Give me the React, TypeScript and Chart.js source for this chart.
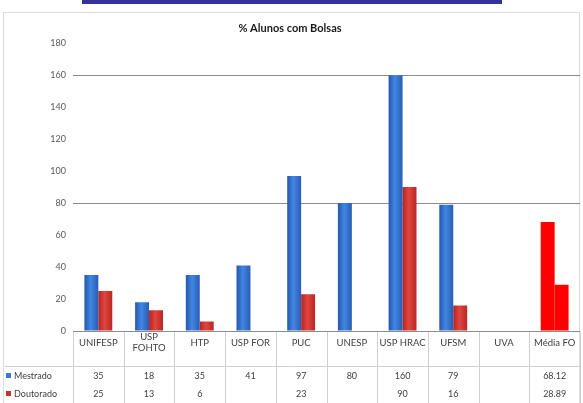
import { useEffect, useRef } from "react";
import { Chart, registerables } from "chart.js";

Chart.register(...registerables);

// ---- data ----
const chartTitle = "% Alunos com Bolsas";
const categories: (string | string[])[] = [
  "UNIFESP",
  ["USP", "FOHTO"],
  "HTP",
  "USP FOR",
  "PUC",
  "UNESP",
  "USP HRAC",
  "UFSM",
  "UVA",
  "Média FO",
];
const seriesNames = ["Mestrado", "Doutorado"];
const mestrado: (number | null)[] = [35, 18, 35, 41, 97, 80, 160, 79, null, 68.12];
const doutorado: (number | null)[] = [25, 13, 6, null, 23, null, 90, 16, null, 28.89];
const yMin = 0;
const yMax = 180;
const yStep = 20;
const ruledValues = [0, 80, 160];

// ---- styling ----
const FONT = "Lato, 'Open Sans', 'DejaVu Sans', sans-serif";
const CAT_PCT = 0.55;
const AVERAGE_INDEX = categories.length - 1;
const AVERAGE_COLOR = "#ff0000";
const BLUE_STOPS = ["#2457ad", "#4186e3", "#2a5cb2"];
const RED_STOPS = ["#b8231f", "#e0463f", "#b92622"];
const KEY_COLORS = ["#3a78d4", "#c8302b"];
const TABLE_LEFT = 5;
const ROW_H = 18;

function barFill(dsIndex: number, stops: string[]) {
  return (ctx: any) => {
    const i = ctx.dataIndex;
    if (i === AVERAGE_INDEX) return AVERAGE_COLOR;
    const chart = ctx.chart;
    const x = chart.scales?.x;
    if (!x || x.right === undefined || !isFinite(x.right - x.left)) return stops[1];
    const catW = (x.right - x.left) / categories.length;
    const bw = (catW * CAT_PCT) / 2;
    const c = x.getPixelForValue(i);
    if (!isFinite(c)) return stops[1];
    const left = c - bw + dsIndex * bw;
    const g = chart.ctx.createLinearGradient(left, 0, left + bw, 0);
    g.addColorStop(0, stops[0]);
    g.addColorStop(0.45, stops[1]);
    g.addColorStop(1, stops[2]);
    return g;
  };
}

const frame = {
  id: "frame",
  beforeDraw(chart: any) {
    const { ctx, width, height } = chart;
    ctx.save();
    ctx.fillStyle = "#ffffff";
    ctx.fillRect(0, 0, width, height);
    // outer chart border
    ctx.strokeStyle = "#dcdcdc";
    ctx.lineWidth = 1;
    ctx.strokeRect(3.5, 12.5, width - 7, height - 10);
    // heading band of the page
    ctx.fillStyle = "#333399";
    ctx.fillRect(82, 0, 420, 4);
    ctx.restore();
  },
};

const dataTable = {
  id: "dataTable",
  afterDraw(chart: any) {
    const { ctx, chartArea } = chart;
    const x = chart.scales.x;
    const n = categories.length;
    const catW = (x.right - x.left) / n;
    const headerBottom = Math.round(x.bottom);
    const tableBottom = headerBottom + ROW_H * 2 + 4;
    ctx.save();
    ctx.strokeStyle = "#cfcfcf";
    ctx.lineWidth = 1;
    ctx.beginPath();
    for (let i = 0; i <= n; i++) {
      const px = Math.round(x.left + i * catW) + 0.5;
      ctx.moveTo(px, chartArea.bottom + 1);
      ctx.lineTo(px, tableBottom);
    }
    ctx.moveTo(TABLE_LEFT, headerBottom + 0.5);
    ctx.lineTo(x.right, headerBottom + 0.5);
    ctx.stroke();

    const rows = [mestrado, doutorado];
    ctx.textBaseline = "middle";
    ctx.font = `9px ${FONT}`;
    rows.forEach((vals, r) => {
      const cy = headerBottom + ROW_H * (r + 0.5) + 1;
      ctx.fillStyle = KEY_COLORS[r];
      ctx.fillRect(TABLE_LEFT + 1, cy - 3, 5, 5);
      ctx.fillStyle = "#404040";
      ctx.textAlign = "left";
      ctx.fillText(seriesNames[r], TABLE_LEFT + 9, cy);
      ctx.textAlign = "center";
      vals.forEach((v, i) => {
        if (v === null) return;
        ctx.fillText(String(v), x.getPixelForValue(i), cy);
      });
    });
    ctx.restore();
  },
};

export default function App() {
  const ref = useRef<HTMLCanvasElement>(null);

  useEffect(() => {
    if (!ref.current) return;
    const chart = new Chart(ref.current, {
      type: "bar",
      data: {
        labels: categories,
        datasets: [
          {
            label: seriesNames[0],
            data: mestrado,
            backgroundColor: barFill(0, BLUE_STOPS),
            borderWidth: 0,
            categoryPercentage: CAT_PCT,
            barPercentage: 1,
          },
          {
            label: seriesNames[1],
            data: doutorado,
            backgroundColor: barFill(1, RED_STOPS),
            borderWidth: 0,
            categoryPercentage: CAT_PCT,
            barPercentage: 1,
          },
        ],
      },
      options: {
        responsive: false,
        animation: false,
        devicePixelRatio: 1,
        layout: { padding: { top: 12, left: 0, right: 3, bottom: 37 } },
        plugins: {
          legend: { display: false },
          tooltip: { enabled: false },
          title: {
            display: true,
            text: chartTitle,
            color: "#1a1a1a",
            font: { family: FONT, size: 11, weight: "bold" },
            padding: { top: 10, bottom: 8 },
          },
        },
        scales: {
          y: {
            min: yMin,
            max: yMax,
            afterFit: (s: any) => {
              s.width = 73;
            },
            ticks: {
              stepSize: yStep,
              color: "#595959",
              font: { family: FONT, size: 9 },
              padding: 7,
            },
            grid: {
              drawTicks: false,
              lineWidth: 1,
              color: (c: any) =>
                ruledValues.includes(c.tick?.value) ? "#8c8c8c" : "rgba(0,0,0,0)",
            },
            border: { display: false },
          },
          x: {
            afterFit: (s: any) => {
              s.height = 35;
            },
            grid: { display: false, drawTicks: false },
            border: { display: false },
            ticks: {
              color: "#404040",
              font: { family: FONT, size: 9.5 },
              crossAlign: "center",
              padding: 6,
              maxRotation: 0,
              autoSkip: false,
            },
          },
        },
      },
      plugins: [frame, dataTable],
    } as any);
    return () => chart.destroy();
  }, []);

  return (
    <div style={{ position: "fixed", left: 0, top: 0, width: 583, height: 403, background: "#fff" }}>
      <canvas ref={ref} width={583} height={403} style={{ display: "block" }} />
    </div>
  );
}
